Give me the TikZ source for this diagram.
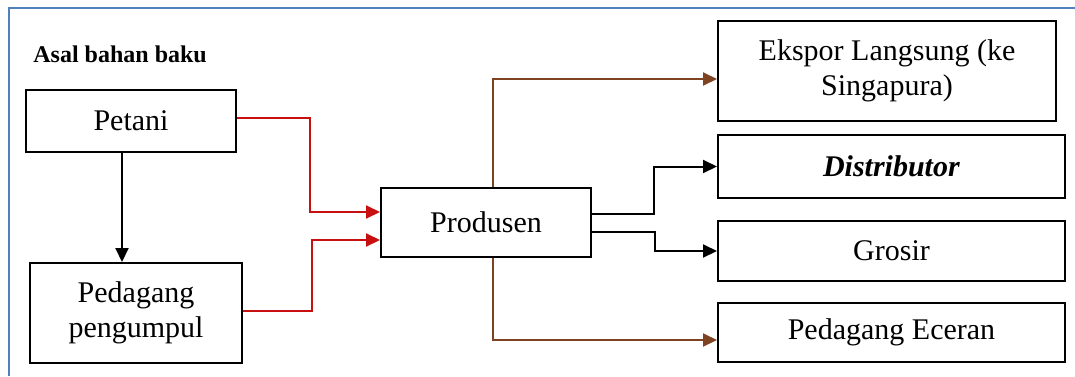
\documentclass[tikz,border=0pt]{standalone}
\usepackage{fontspec}
\setmainfont{Liberation Serif}
\usepackage{xcolor}
\usepackage{tikz}
\usetikzlibrary{arrows.meta, positioning, calc}
\definecolor{FrameBlue}{HTML}{4F81BD}
\definecolor{FlowRed}{HTML}{C81010}
\definecolor{FlowBrown}{HTML}{7E4320}

\begin{document}
\begin{tikzpicture}[x=0.5pt, y=-0.5pt,
  box/.style={draw, line width=1pt, inner sep=0pt, align=center, font=\fontsize{15}{17.5}\selectfont},
  flow/.style={line width=1pt, -{Triangle[length=7pt, width=6.5pt]}}]
\useasboundingbox (0,0) rectangle (1075,376);
\draw[FrameBlue, line width=1.2pt] (9,376) -- (9,8) -- (1075,8);
\node[anchor=west, inner sep=0pt, font=\fontsize{12}{14}\selectfont\bfseries] (asal) at (33,54) {Asal bahan baku};
\node[box, minimum width=105pt, minimum height=31pt] (petani) at (131,121) {Petani};
\node[box, minimum width=106pt, minimum height=50pt] (pengumpul) at (136,313) {Pedagang\\pengumpul};
\node[box, minimum width=105pt, minimum height=34.5pt] (produsen) at (486,222.5) {Produsen};
\node[box, minimum width=169pt, minimum height=50pt] (ekspor) at (887,71) {Ekspor Langsung (ke\\Singapura)};
\node[box, minimum width=173.5pt, minimum height=31.5pt] (distributor) at (891.5,166.5) {\textbf{\textit{Distributor}}};
\node[box, minimum width=173.5pt, minimum height=30pt] (grosir) at (891.5,251) {Grosir};
\node[box, minimum width=173.5pt, minimum height=29.5pt] (eceran) at (891.5,332.5) {Pedagang Eceran};
% bahan baku
\draw[flow] ([xshift=-4.5pt]petani.south) -- ([xshift=-4.5pt]petani.south |- pengumpul.north);
\draw[flow, FlowRed] ([yshift=1.5pt]petani.east) -| (310,212) -- ([yshift=5.25pt]produsen.west);
\draw[flow, FlowRed] ([yshift=1pt]pengumpul.east) -| (312,240) -- ([yshift=-8.75pt]produsen.west);
% distribusi
\draw[flow, FlowBrown] ([xshift=3.5pt]produsen.north) |- ([yshift=-4pt]ekspor.west);
\draw[flow] ([yshift=4.25pt]produsen.east) -| (654,166.5) -- (distributor.west);
\draw[flow] ([yshift=-4.75pt]produsen.east) -| (655,251) -- (grosir.west);
\draw[flow, FlowBrown] ([xshift=3.5pt]produsen.south) |- ([yshift=-3.75pt]eceran.west);
\end{tikzpicture}
\end{document}
